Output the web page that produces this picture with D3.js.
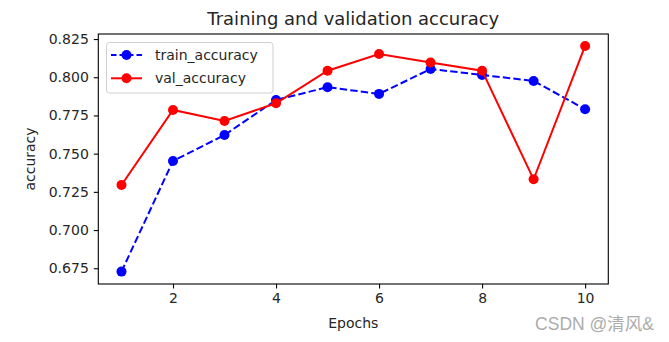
<!DOCTYPE html>
<html><head><meta charset="utf-8">
<script src="https://cdn.jsdelivr.net/npm/d3@7"></script>
<style>body{margin:0;background:#fff;} text{font-family:"DejaVu Sans",sans-serif;fill:#262626;}</style>
</head><body>
<svg id="c" width="669" height="342"></svg>
<script>
const epochs = [1,2,3,4,5,6,7,8,9,10];
const trainAcc = [0.6728,0.7452,0.7622,0.7851,0.7935,0.7891,0.8054,0.8015,0.7976,0.7791];
const valAcc = [0.7295,0.7786,0.7714,0.7830,0.8043,0.8152,0.8096,0.8043,0.7332,0.8205];
const xTicks = [2,4,6,8,10];
const yTicks = [0.675,0.700,0.725,0.750,0.775,0.800,0.825];

const svg = d3.select("#c");
const L=98.3, R=608.3, T=34, B=284;
const x = d3.scaleLinear().domain([0.55,10.45]).range([L,R]);
const y = d3.scaleLinear().domain([0.6647,0.8283]).range([B,T]);

svg.append("rect").attr("width",669).attr("height",342).attr("fill","#fff");

const xa = svg.append("g").attr("transform",`translate(0,${B})`)
  .call(d3.axisBottom(x).tickValues(xTicks).tickFormat(d3.format("d")).tickSize(4.5).tickPadding(5));
const ya = svg.append("g").attr("transform",`translate(${L},0)`)
  .call(d3.axisLeft(y).tickValues(yTicks).tickFormat(d3.format(".3f")).tickSize(4.5).tickPadding(5));
[xa,ya].forEach(a=>{a.select(".domain").remove();a.selectAll("line").attr("stroke","#000").attr("stroke-width",1.1);
  a.selectAll("text").attr("font-size","14px").attr("fill","#262626").style("font-family","DejaVu Sans");});

const line = d3.line().x((d,i)=>x(epochs[i])).y(d=>y(d));
const g = svg.append("g");
g.append("path").datum(trainAcc).attr("d",line).attr("fill","none").attr("stroke","#0000ff").attr("stroke-width",2).attr("stroke-dasharray","7.4,3.2");
g.selectAll(".tp").data(trainAcc).enter().append("circle").attr("cx",(d,i)=>x(epochs[i])).attr("cy",d=>y(d)).attr("r",5).attr("fill","#0000ff");
g.append("path").datum(valAcc).attr("d",line).attr("fill","none").attr("stroke","#ff0000").attr("stroke-width",2);
g.selectAll(".vp").data(valAcc).enter().append("circle").attr("cx",(d,i)=>x(epochs[i])).attr("cy",d=>y(d)).attr("r",5).attr("fill","#ff0000");

svg.append("rect").attr("x",L).attr("y",T).attr("width",R-L).attr("height",B-T).attr("fill","none").attr("stroke","#000").attr("stroke-width",1.1);

// legend
const lg = svg.append("g");
lg.append("rect").attr("x",106.5).attr("y",42.5).attr("width",166.5).attr("height",50.5).attr("rx",3).attr("fill","#fff").attr("fill-opacity",0.8).attr("stroke","#d0d0d0").attr("stroke-width",1);
const items=[{n:"train_accuracy",c:"#0000ff",dash:"7.4,3.2"},{n:"val_accuracy",c:"#ff0000",dash:null}];
items.forEach((it,i)=>{
  const yy = 55 + i*23.3;
  const l = lg.append("line").attr("x1",111).attr("x2",142).attr("y1",yy).attr("y2",yy).attr("stroke",it.c).attr("stroke-width",2);
  if(it.dash) l.attr("stroke-dasharray","5.5,3");
  lg.append("circle").attr("cx",126.5).attr("cy",yy).attr("r",5).attr("fill",it.c);
  lg.append("text").attr("x",155).attr("y",yy).attr("dy","0.35em").attr("font-size","14px").text(it.n);
});

svg.append("text").attr("x",(L+R)/2).attr("y",25).attr("text-anchor","middle").attr("font-size","18px").text("Training and validation accuracy");
svg.append("text").attr("x",(L+R)/2).attr("y",327.5).attr("text-anchor","middle").attr("font-size","14px").text("Epochs");
svg.append("text").attr("transform",`translate(35,${(T+B)/2}) rotate(-90)`).attr("text-anchor","middle").attr("font-size","14px").text("accuracy");
svg.append("text").attr("x",654).attr("y",330).attr("text-anchor","end").attr("font-size","17.5px").style("font-family","'Liberation Sans','Noto Sans CJK SC',sans-serif").style("fill","#acacac").text("CSDN @清风&");
</script>
</body></html>
